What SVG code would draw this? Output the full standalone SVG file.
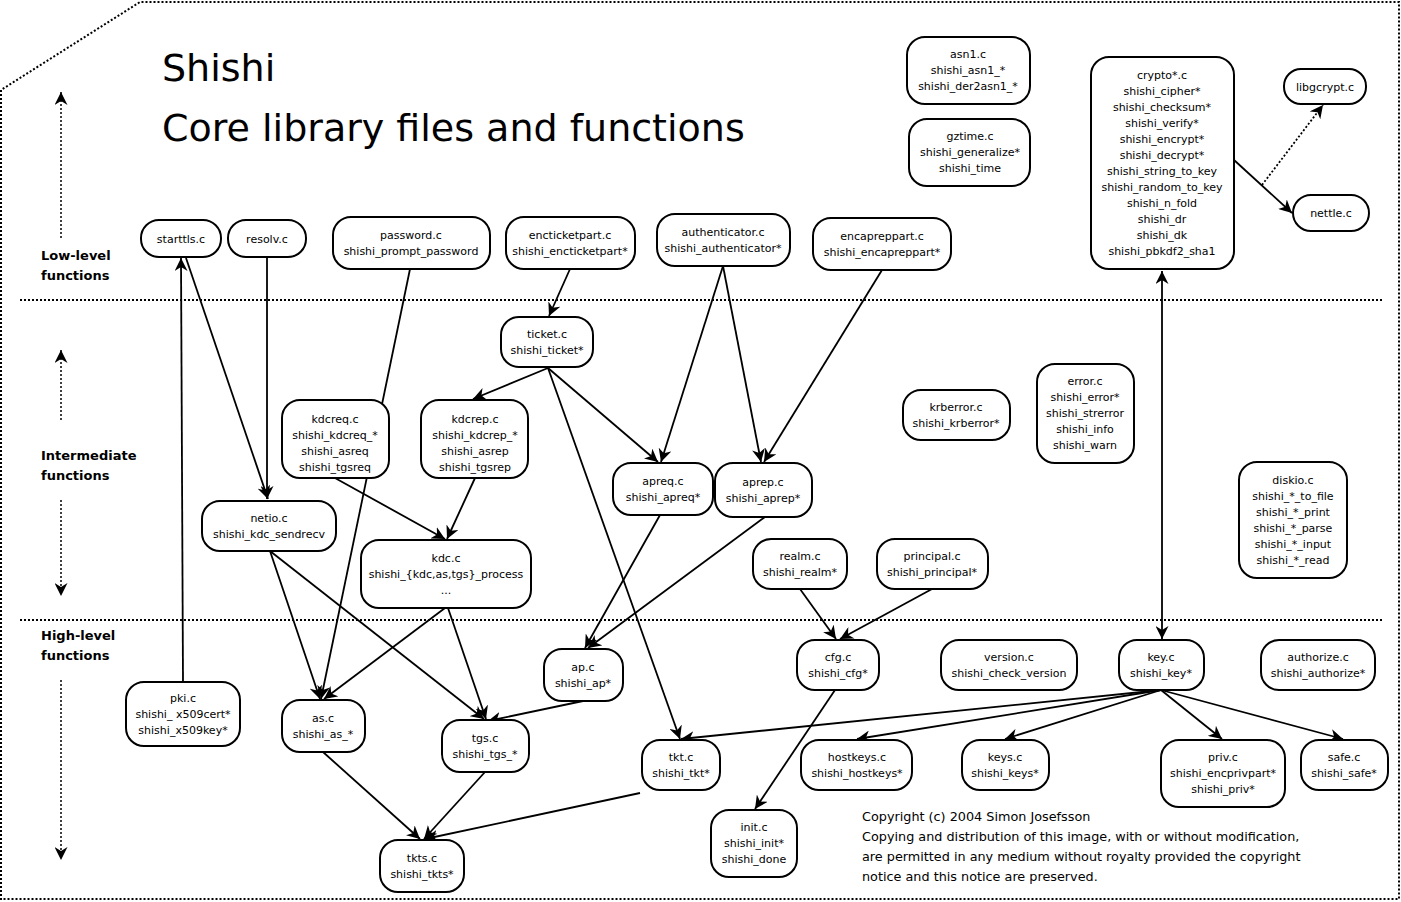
<svg xmlns="http://www.w3.org/2000/svg" width="1401" height="902" viewBox="0 0 1401 902">
<defs>
<marker id="a" viewBox="0 0 10 10" refX="10" refY="5" markerWidth="13" markerHeight="13" markerUnits="userSpaceOnUse" orient="auto"><path d="M0,0L10,5L0,10L3,5z" fill="#000"/></marker>
<marker id="as" viewBox="0 0 10 10" refX="0" refY="5" markerWidth="13" markerHeight="13" markerUnits="userSpaceOnUse" orient="auto"><path d="M10,0L0,5L10,10L7,5z" fill="#000"/></marker>
</defs>
<style>
text{font-family:"DejaVu Sans",sans-serif;font-size:11px;text-anchor:middle;fill:#000}
.n rect{fill:#fff;stroke:#000;stroke-width:2}
.e line{stroke:#000;stroke-width:1.8;marker-end:url(#a)}
.d{stroke:#000;stroke-width:2;stroke-dasharray:2 2;fill:none}
.lbl{font-size:13px;font-weight:bold;text-anchor:start}
.c{font-size:12.8px;text-anchor:start}
</style>
<rect width="1401" height="902" fill="#fff"/>
<path class="d" d="M1,900V90L140,2H1399V899H1"/>
<line class="d" x1="20" y1="300" x2="1382" y2="300"/>
<line class="d" x1="20" y1="620" x2="1382" y2="620"/>
<g class="d" style="stroke-width:1.5">
<line x1="61" y1="92" x2="61" y2="240" marker-start="url(#as)"/>
<line x1="61" y1="350" x2="61" y2="422" marker-start="url(#as)"/>
<line x1="61" y1="500" x2="61" y2="596" marker-end="url(#a)"/>
<line x1="61" y1="680" x2="61" y2="860" marker-end="url(#a)"/>
</g>
<text x="162" y="81" style="font-size:38px;text-anchor:start">Shishi</text>
<text x="162" y="141" style="font-size:38px;text-anchor:start">Core library files and functions</text>
<text class="lbl" x="41" y="260">Low-level</text><text class="lbl" x="41" y="280">functions</text>
<text class="lbl" x="41" y="460">Intermediate</text><text class="lbl" x="41" y="480">functions</text>
<text class="lbl" x="41" y="640">High-level</text><text class="lbl" x="41" y="660">functions</text>
<g class="e">
<line x1="183" y1="682" x2="181" y2="258"/>
<line x1="186" y1="258" x2="268" y2="499"/>
<line x1="267" y1="258" x2="267" y2="499"/>
<line x1="410" y1="269" x2="321" y2="699"/>
<line x1="570" y1="269" x2="549" y2="316"/>
<line x1="548" y1="368" x2="473" y2="399"/>
<line x1="548" y1="368" x2="658" y2="462"/>
<line x1="548" y1="368" x2="680" y2="739"/>
<line x1="723" y1="266" x2="661" y2="462"/>
<line x1="723" y1="266" x2="761" y2="462"/>
<line x1="882" y1="270" x2="764" y2="462"/>
<line x1="335" y1="478" x2="445" y2="539"/>
<line x1="475" y1="478" x2="447" y2="539"/>
<line x1="270" y1="551" x2="320" y2="699"/>
<line x1="270" y1="551" x2="484" y2="719"/>
<line x1="445" y1="608" x2="324" y2="699"/>
<line x1="448" y1="608" x2="486" y2="719"/>
<line x1="660" y1="515" x2="585" y2="648"/>
<line x1="765" y1="517" x2="588" y2="648"/>
<line x1="583" y1="701" x2="488" y2="721"/>
<line x1="323" y1="752" x2="420" y2="839"/>
<line x1="485" y1="772" x2="424" y2="839"/>
<line x1="640" y1="793" x2="425" y2="839"/>
<line x1="800" y1="589" x2="836" y2="639"/>
<line x1="932" y1="589" x2="840" y2="639"/>
<line x1="835" y1="690" x2="755" y2="809"/>
<line x1="1162" y1="271" x2="1162" y2="639" marker-start="url(#as)"/>
<line x1="1234" y1="160" x2="1292" y2="213"/>
<line x1="1262" y1="185" x2="1323" y2="105" style="stroke-dasharray:2 2"/>
<line x1="1161" y1="690" x2="681" y2="739"/>
<line x1="1161" y1="690" x2="857" y2="739"/>
<line x1="1161" y1="690" x2="1005" y2="739"/>
<line x1="1161" y1="690" x2="1222" y2="739"/>
<line x1="1161" y1="690" x2="1343" y2="739"/>
</g>
<g class="n">
<g id="starttls"><rect x="141" y="220" width="80" height="37" rx="18"/><text x="181" y="243">starttls.c</text></g>
<g id="resolv"><rect x="228" y="220" width="78" height="37" rx="18"/><text x="267" y="243">resolv.c</text></g>
<g id="password"><rect x="333" y="217" width="157" height="52" rx="18"/><text x="411" y="239">password.c</text><text x="411" y="255">shishi_prompt_password</text></g>
<g id="encticketpart"><rect x="506" y="217" width="129" height="52" rx="18"/><text x="570" y="239">encticketpart.c</text><text x="570" y="255">shishi_encticketpart*</text></g>
<g id="authenticator"><rect x="657" y="214" width="133" height="52" rx="18"/><text x="723" y="236">authenticator.c</text><text x="723" y="252">shishi_authenticator*</text></g>
<g id="encapreppart"><rect x="813" y="218" width="138" height="52" rx="18"/><text x="882" y="240">encapreppart.c</text><text x="882" y="256">shishi_encapreppart*</text></g>
<g id="asn1"><rect x="907" y="37" width="123" height="67" rx="18"/><text x="968" y="58">asn1.c</text><text x="968" y="74">shishi_asn1_*</text><text x="968" y="90">shishi_der2asn1_*</text></g>
<g id="gztime"><rect x="909" y="119" width="121" height="67" rx="18"/><text x="970" y="140">gztime.c</text><text x="970" y="156">shishi_generalize*</text><text x="970" y="172">shishi_time</text></g>
<g id="crypto"><rect x="1091" y="57" width="143" height="212" rx="18"/>
<text x="1162" y="79">crypto*.c</text><text x="1162" y="95">shishi_cipher*</text><text x="1162" y="111">shishi_checksum*</text><text x="1162" y="127">shishi_verify*</text><text x="1162" y="143">shishi_encrypt*</text><text x="1162" y="159">shishi_decrypt*</text><text x="1162" y="175">shishi_string_to_key</text><text x="1162" y="191">shishi_random_to_key</text><text x="1162" y="207">shishi_n_fold</text><text x="1162" y="223">shishi_dr</text><text x="1162" y="239">shishi_dk</text><text x="1162" y="255">shishi_pbkdf2_sha1</text></g>
<g id="libgcrypt"><rect x="1284" y="69" width="82" height="35" rx="17"/><text x="1325" y="91">libgcrypt.c</text></g>
<g id="nettle"><rect x="1293" y="195" width="76" height="36" rx="18"/><text x="1331" y="217">nettle.c</text></g>
<g id="ticket"><rect x="501" y="317" width="92" height="50" rx="18"/><text x="547" y="338">ticket.c</text><text x="547" y="354">shishi_ticket*</text></g>
<g id="kdcreq"><rect x="282" y="400" width="107" height="78" rx="18"/><text x="335" y="423">kdcreq.c</text><text x="335" y="439">shishi_kdcreq_*</text><text x="335" y="455">shishi_asreq</text><text x="335" y="471">shishi_tgsreq</text></g>
<g id="kdcrep"><rect x="421" y="400" width="107" height="78" rx="18"/><text x="475" y="423">kdcrep.c</text><text x="475" y="439">shishi_kdcrep_*</text><text x="475" y="455">shishi_asrep</text><text x="475" y="471">shishi_tgsrep</text></g>
<g id="apreq"><rect x="613" y="463" width="100" height="52" rx="18"/><text x="663" y="485">apreq.c</text><text x="663" y="501">shishi_apreq*</text></g>
<g id="aprep"><rect x="715" y="463" width="97" height="54" rx="18"/><text x="763" y="486">aprep.c</text><text x="763" y="502">shishi_aprep*</text></g>
<g id="krberror"><rect x="903" y="390" width="107" height="50" rx="18"/><text x="956" y="411">krberror.c</text><text x="956" y="427">shishi_krberror*</text></g>
<g id="error"><rect x="1037" y="364" width="97" height="99" rx="18"/><text x="1085" y="385">error.c</text><text x="1085" y="401">shishi_error*</text><text x="1085" y="417">shishi_strerror</text><text x="1085" y="433">shishi_info</text><text x="1085" y="449">shishi_warn</text></g>
<g id="diskio"><rect x="1239" y="462" width="108" height="116" rx="18"/><text x="1293" y="484">diskio.c</text><text x="1293" y="500">shishi_*_to_file</text><text x="1293" y="516">shishi_*_print</text><text x="1293" y="532">shishi_*_parse</text><text x="1293" y="548">shishi_*_input</text><text x="1293" y="564">shishi_*_read</text></g>
<g id="netio"><rect x="202" y="501" width="134" height="50" rx="18"/><text x="269" y="522">netio.c</text><text x="269" y="538">shishi_kdc_sendrecv</text></g>
<g id="kdc"><rect x="361" y="540" width="170" height="68" rx="18"/><text x="446" y="562">kdc.c</text><text x="446" y="578">shishi_{kdc,as,tgs}_process</text><text x="446" y="594">...</text></g>
<g id="realm"><rect x="753" y="539" width="94" height="50" rx="18"/><text x="800" y="560">realm.c</text><text x="800" y="576">shishi_realm*</text></g>
<g id="principal"><rect x="877" y="539" width="111" height="50" rx="18"/><text x="932" y="560">principal.c</text><text x="932" y="576">shishi_principal*</text></g>
<g id="pki"><rect x="126" y="682" width="114" height="64" rx="18"/><text x="183" y="702">pki.c</text><text x="183" y="718">shishi_ x509cert*</text><text x="183" y="734">shishi_x509key*</text></g>
<g id="as"><rect x="282" y="700" width="83" height="52" rx="18"/><text x="323" y="722">as.c</text><text x="323" y="738">shishi_as_*</text></g>
<g id="tgs"><rect x="442" y="720" width="87" height="52" rx="18"/><text x="485" y="742">tgs.c</text><text x="485" y="758">shishi_tgs_*</text></g>
<g id="ap"><rect x="544" y="649" width="79" height="52" rx="18"/><text x="583" y="671">ap.c</text><text x="583" y="687">shishi_ap*</text></g>
<g id="cfg"><rect x="797" y="640" width="82" height="50" rx="18"/><text x="838" y="661">cfg.c</text><text x="838" y="677">shishi_cfg*</text></g>
<g id="version"><rect x="941" y="640" width="136" height="50" rx="18"/><text x="1009" y="661">version.c</text><text x="1009" y="677">shishi_check_version</text></g>
<g id="key"><rect x="1119" y="640" width="85" height="50" rx="18"/><text x="1161" y="661">key.c</text><text x="1161" y="677">shishi_key*</text></g>
<g id="authorize"><rect x="1261" y="640" width="114" height="50" rx="18"/><text x="1318" y="661">authorize.c</text><text x="1318" y="677">shishi_authorize*</text></g>
<g id="tkt"><rect x="642" y="740" width="78" height="50" rx="18"/><text x="681" y="761">tkt.c</text><text x="681" y="777">shishi_tkt*</text></g>
<g id="hostkeys"><rect x="801" y="740" width="111" height="50" rx="18"/><text x="857" y="761">hostkeys.c</text><text x="857" y="777">shishi_hostkeys*</text></g>
<g id="keys"><rect x="962" y="740" width="87" height="50" rx="18"/><text x="1005" y="761">keys.c</text><text x="1005" y="777">shishi_keys*</text></g>
<g id="priv"><rect x="1161" y="740" width="124" height="67" rx="18"/><text x="1223" y="761">priv.c</text><text x="1223" y="777">shishi_encprivpart*</text><text x="1223" y="793">shishi_priv*</text></g>
<g id="safe"><rect x="1301" y="740" width="87" height="50" rx="18"/><text x="1344" y="761">safe.c</text><text x="1344" y="777">shishi_safe*</text></g>
<g id="init"><rect x="711" y="810" width="86" height="67" rx="18"/><text x="754" y="831">init.c</text><text x="754" y="847">shishi_init*</text><text x="754" y="863">shishi_done</text></g>
<g id="tkts"><rect x="380" y="840" width="84" height="52" rx="18"/><text x="422" y="862">tkts.c</text><text x="422" y="878">shishi_tkts*</text></g>
</g>
<text class="c" x="862" y="821">Copyright (c) 2004 Simon Josefsson</text>
<text class="c" x="862" y="841">Copying and distribution of this image, with or without modification,</text>
<text class="c" x="862" y="861">are permitted in any medium without royalty provided the copyright</text>
<text class="c" x="862" y="881">notice and this notice are preserved.</text>
</svg>
